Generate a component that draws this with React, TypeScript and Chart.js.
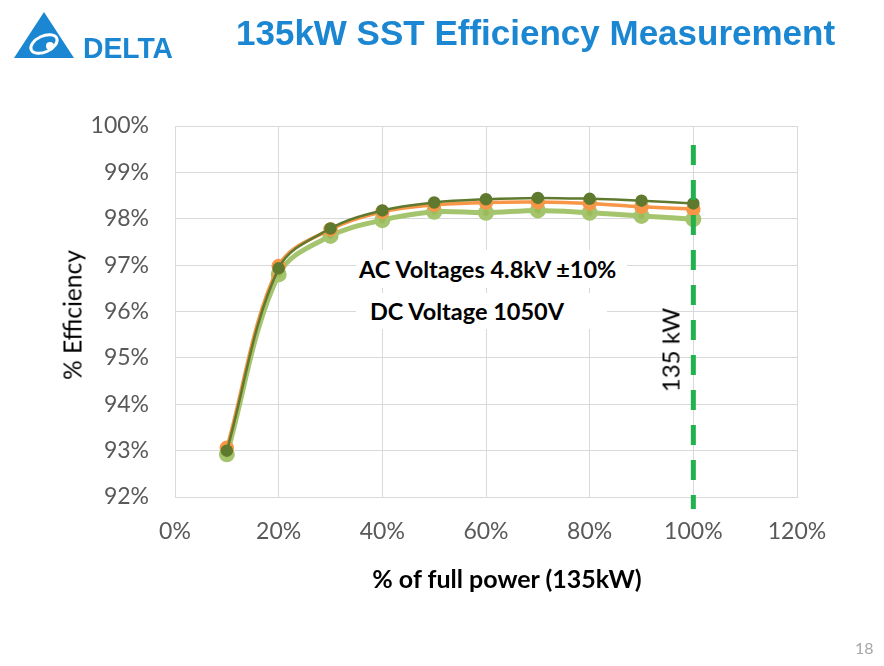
import { useEffect, useRef } from 'react';
import Chart from 'chart.js/auto';

// % of full power (x) and measured efficiency (%) for three test runs
const powerPct = [10, 20, 30, 40, 50, 60, 70, 80, 90, 100];
const effDark = [93.0, 96.93, 97.79, 98.18, 98.35, 98.42, 98.45, 98.43, 98.39, 98.33];
const effOrange = [93.06, 96.98, 97.77, 98.15, 98.3, 98.35, 98.36, 98.33, 98.26, 98.21];
const effLight = [92.92, 96.8, 97.63, 97.97, 98.15, 98.13, 98.18, 98.13, 98.06, 97.99];

// 135 kW marker (dashed line at 100%)
const markerX = 100;
const markerY = [99.59, 91.74];

const xTicks = [0, 20, 40, 60, 80, 100, 120];
const yTicks = [92, 93, 94, 95, 96, 97, 98, 99, 100];

const toPoints = (ys: number[]) => ys.map((y, i) => ({ x: powerPct[i], y }));

const EfficiencyChart = () => {
  const canvasRef = useRef<HTMLCanvasElement>(null);
  const chartInstance = useRef<Chart | null>(null);

  useEffect(() => {
    if (!canvasRef.current) return;
    const ctx = canvasRef.current.getContext('2d');
    if (!ctx) return;

    const tickFont = { family: 'Lato', size: 23 };

    chartInstance.current = new Chart(ctx, {
      type: 'line',
      data: {
        datasets: [
          {
            label: '135 kW',
            data: markerY.map((y) => ({ x: markerX, y })),
            borderColor: '#22b14c',
            borderWidth: 5,
            borderDash: [20, 15],
            pointRadius: 0,
            clip: false,
            tension: 0,
          },
          {
            label: 'run 3',
            data: toPoints(effDark),
            borderColor: '#5f7a2f',
            backgroundColor: '#5f7a2f',
            borderWidth: 2.5,
            pointRadius: 5,
            tension: 0.35,
          },
          {
            label: 'run 2',
            data: toPoints(effOrange),
            borderColor: '#f79646',
            backgroundColor: '#f79646',
            borderWidth: 3.5,
            pointRadius: 5.5,
            tension: 0.35,
          },
          {
            label: 'run 1',
            data: toPoints(effLight),
            borderColor: '#a5c46e',
            backgroundColor: '#9bbb59',
            borderWidth: 5,
            pointRadius: 5.5,
            tension: 0.35,
          },
        ],
      },
      options: {
        animation: false,
        responsive: false,
        layout: { padding: { left: 0, right: 87, top: 126, bottom: 109 } },
        plugins: {
          legend: { display: false },
          tooltip: { enabled: false },
        },
        scales: {
          x: {
            type: 'linear',
            min: 0,
            max: 120,
            afterFit: (s: any) => {
              s.height = 60;
            },
            afterBuildTicks: (s: any) => {
              s.ticks = xTicks.map((value) => ({ value }));
            },
            grid: { color: '#d9d9d9', lineWidth: 1, drawTicks: false },
            border: { color: '#d9d9d9' },
            ticks: {
              padding: 21,
              color: '#595959',
              font: tickFont,
              maxRotation: 0,
              callback: (v: any) => v + '%',
            },
          },
          y: {
            type: 'linear',
            min: 92,
            max: 100,
            afterFit: (s: any) => {
              s.width = 175;
            },
            afterBuildTicks: (s: any) => {
              s.ticks = yTicks.map((value) => ({ value }));
            },
            grid: { color: '#d9d9d9', lineWidth: 1, drawTicks: false },
            border: { color: '#d9d9d9' },
            ticks: {
              padding: 26,
              color: '#595959',
              font: tickFont,
              callback: (v: any) => v + '%',
            },
          },
        },
      },
    });

    return () => {
      if (chartInstance.current) {
        chartInstance.current.destroy();
        chartInstance.current = null;
      }
    };
  }, []);

  return (
    <canvas
      ref={canvasRef}
      width={884}
      height={666}
      style={{ position: 'absolute', left: 0, top: 0, width: 884, height: 666 }}
    />
  );
};

const Logo = () => (
  <svg width={170} height={60} style={{ position: 'absolute', left: 10, top: 8 }}>
    <polygon points="4,50 34,4 64,50" fill="#1b86d1" />
    <ellipse cx={34} cy={36} rx={14} ry={8} fill="none" stroke="#fff" strokeWidth={3} transform="rotate(-25 34 36)" />
    <circle cx={40} cy={38} r={4} fill="#fff" />
    <text
      x={73}
      y={50}
      fill="#1b86d1"
      textLength={90}
      lengthAdjust="spacingAndGlyphs"
      style={{ font: '900 30px "Liberation Sans"' }}
    >
      DELTA
    </text>
  </svg>
);

const App = () => {
  const label = { position: 'absolute' as const, fontFamily: 'Lato', color: '#000', whiteSpace: 'nowrap' as const };
  return (
    <div
      style={{
        position: 'absolute',
        left: 0,
        top: 0,
        width: 884,
        height: 666,
        background: '#fff',
        overflow: 'hidden',
      }}
    >
      <EfficiencyChart />
      <Logo />
      <div
        style={{
          position: 'absolute',
          left: 236,
          top: 13,
          font: 'bold 35px "Liberation Sans"',
          color: '#1b86d1',
          whiteSpace: 'nowrap',
        }}
      >
        135kW SST Efficiency Measurement
      </div>
      <div
        style={{
          ...label,
          left: 356,
          top: 250,
          width: 271,
          height: 38,
          background: '#fff',
          fontWeight: 'bold',
          fontSize: 23.5,
          lineHeight: '38px',
          boxSizing: 'border-box',
          paddingLeft: 3,
        }}
      >
        AC Voltages 4.8kV ±10%
      </div>
      <div
        style={{
          ...label,
          left: 356,
          top: 293,
          width: 251,
          height: 36,
          background: '#fff',
          fontWeight: 'bold',
          fontSize: 23.5,
          lineHeight: '36px',
          boxSizing: 'border-box',
          paddingLeft: 14,
        }}
      >
        DC Voltage 1050V
      </div>
      <div
        style={{
          ...label,
          left: 670,
          top: 350,
          fontSize: 24,
          transform: 'translate(-50%, -50%) rotate(-90deg)',
        }}
      >
        135 kW
      </div>
      <div
        style={{
          ...label,
          left: 72,
          top: 315,
          fontSize: 24.5,
          transform: 'translate(-50%, -50%) rotate(-90deg)',
        }}
      >
        % Efficiency
      </div>
      <div
        style={{
          ...label,
          left: 507,
          top: 578,
          fontSize: 25,
          fontWeight: 'bold',
          transform: 'translate(-50%, -50%)',
        }}
      >
        % of full power (135kW)
      </div>
      <div
        style={{
          ...label,
          left: 855,
          top: 638,
          fontSize: 16,
          color: '#a6a6a6',
        }}
      >
        18
      </div>
    </div>
  );
};

export default App;
